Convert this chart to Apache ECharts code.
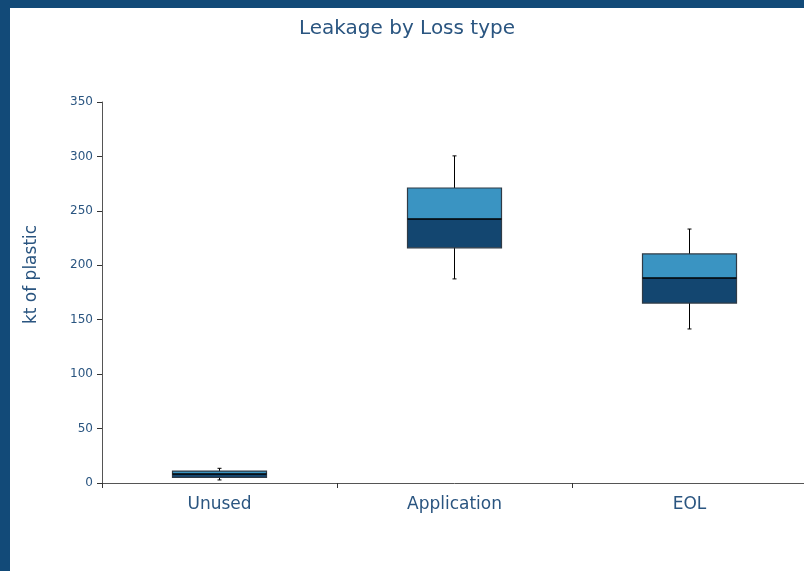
<!DOCTYPE html>
<html>
<head>
<meta charset="utf-8">
<script src="https://cdn.jsdelivr.net/npm/echarts@6/dist/echarts.min.js"></script>
<style>
  html, body { margin: 0; padding: 0; }
  body { width: 804px; height: 571px; background: #124a78; position: relative; overflow: hidden; }
  /* the plot runs a little past the right edge of the window in the original */
  #chart { position: absolute; left: 10px; top: 8px; width: 800px; height: 563px; background: #fff; }
</style>
</head>
<body>
<div id="chart"></div>
<script>
// box plot values (kt of plastic)
const categories = ['Unused', 'Application', 'EOL'];
const whiskerLow = [2.8, 187.5, 141.5];
const q1 = [5.2, 216, 165.3];
const median = [8.3, 242.5, 188.3];
const q3 = [11, 271, 210.4];
const whiskerHigh = [13.5, 300.5, 233.3];

const textColor = '#2a5580';
const font = 'DejaVu Sans';

const boxData = categories.map((c, i) => [i, whiskerLow[i], q1[i], median[i], q3[i], whiskerHigh[i]]);

// two-tone box: dark from q1 to median, light from median to q3
function renderBox(params, api) {
  const i = api.value(0);
  const pLow = api.coord([i, api.value(1)]);
  const pQ1 = api.coord([i, api.value(2)]);
  const pMed = api.coord([i, api.value(3)]);
  const pQ3 = api.coord([i, api.value(4)]);
  const pHigh = api.coord([i, api.value(5)]);
  const w = api.size([1, 0])[0] * 0.4;
  const cx = pMed[0];
  const x0 = cx - w / 2;
  const line = { stroke: '#000', lineWidth: 1 };
  return {
    type: 'group',
    children: [
      { type: 'line', shape: { x1: cx, y1: pHigh[1], x2: cx, y2: pLow[1] }, style: line },
      { type: 'line', shape: { x1: cx - 2, y1: pHigh[1], x2: cx + 2, y2: pHigh[1] }, style: line },
      { type: 'line', shape: { x1: cx - 2, y1: pLow[1], x2: cx + 2, y2: pLow[1] }, style: line },
      { type: 'rect', shape: { x: x0, y: pQ3[1], width: w, height: pMed[1] - pQ3[1] },
        style: { fill: '#3a94c2', stroke: null } },
      { type: 'rect', shape: { x: x0, y: pMed[1], width: w, height: pQ1[1] - pMed[1] },
        style: { fill: '#134670', stroke: null } },
      { type: 'rect', shape: { x: x0, y: pQ3[1], width: w, height: pQ1[1] - pQ3[1] },
        style: { fill: null, stroke: '#2f3b46', lineWidth: 1.2 } },
      { type: 'line', shape: { x1: x0, y1: pMed[1], x2: x0 + w, y2: pMed[1] },
        style: { stroke: '#000', lineWidth: 1.5 } }
    ]
  };
}

const chart = echarts.init(document.getElementById('chart'));
chart.setOption({
  animation: false,
  title: {
    text: 'Leakage by Loss type',
    left: 284,
    top: 6,
    textStyle: { color: textColor, fontSize: 20, fontWeight: 'normal', fontFamily: font }
  },
  grid: { left: 92, top: 94, right: 3, bottom: 88 },
  xAxis: {
    type: 'category',
    data: categories,
    axisLine: { lineStyle: { color: '#555', width: 1 } },
    axisTick: { show: true, length: 5, lineStyle: { color: '#333' } },
    axisLabel: { color: textColor, fontSize: 17, margin: 13, fontFamily: font }
  },
  yAxis: {
    type: 'value',
    min: 0,
    max: 350,
    interval: 50,
    name: 'kt of plastic',
    nameLocation: 'middle',
    nameGap: 62,
    nameTextStyle: { color: textColor, fontSize: 17, fontFamily: font, padding: [0, 0, 0, 36] },
    axisLine: { show: true, lineStyle: { color: '#555', width: 1 } },
    axisTick: { show: true, length: 5, lineStyle: { color: '#333' } },
    axisLabel: { color: textColor, fontSize: 12, margin: 9, fontFamily: font },
    splitLine: { show: false }
  },
  series: [{
    type: 'custom',
    renderItem: renderBox,
    encode: { x: 0, y: [1, 2, 3, 4, 5] },
    data: boxData
  }]
});
</script>
</body>
</html>
